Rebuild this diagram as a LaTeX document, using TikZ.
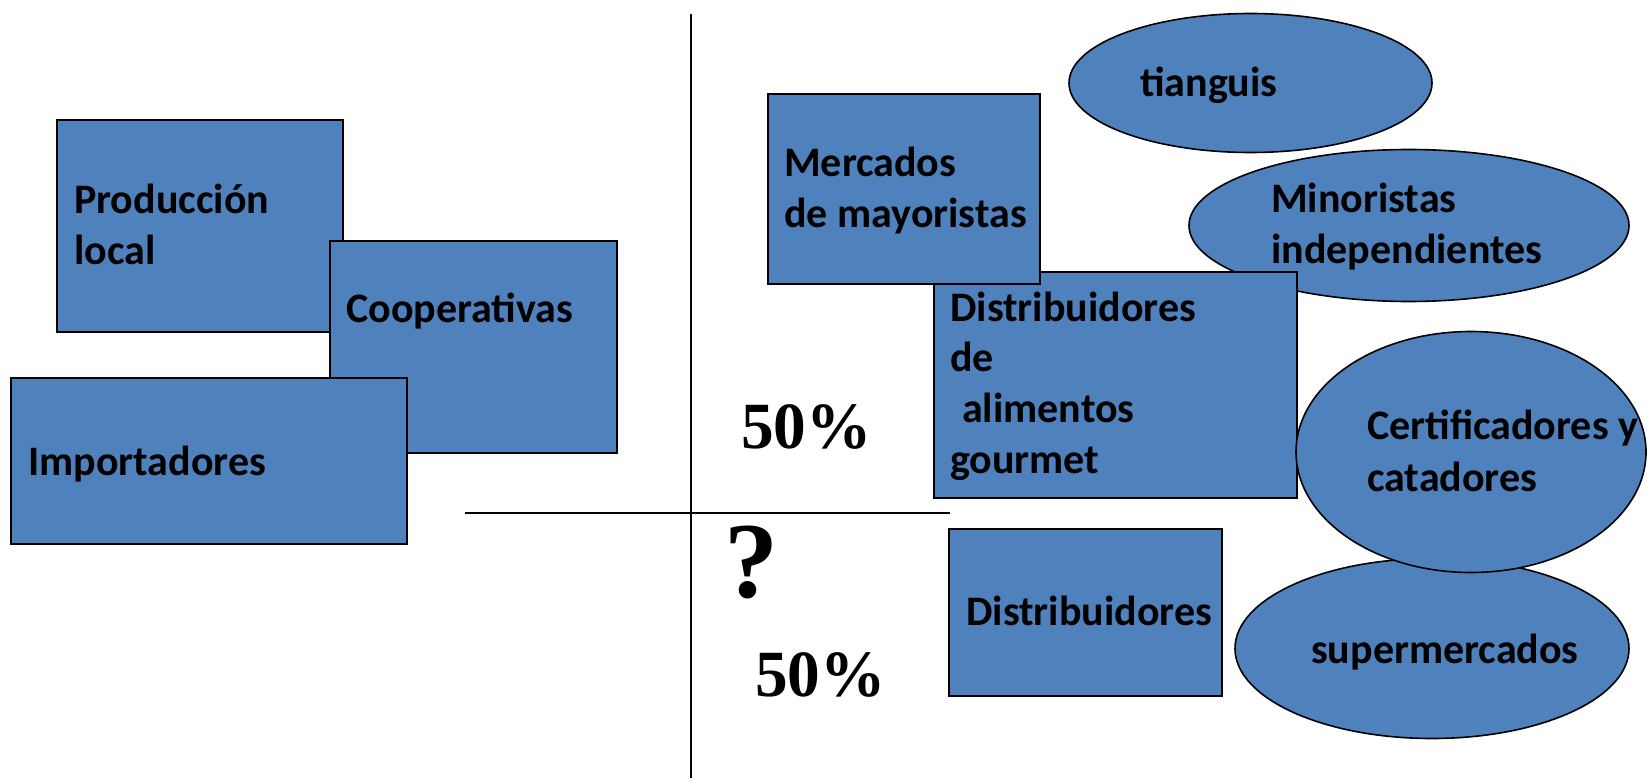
\documentclass[tikz,border=0pt]{standalone}
\usepackage{fontspec}
\setmainfont{Carlito}
\newfontfamily\tnr{Liberation Serif}
\usetikzlibrary{shapes.geometric}
\definecolor{boxblue}{HTML}{4F81BD}
\tikzset{
  blk/.style={draw=black, line width=2pt, fill=boxblue, rectangle, inner sep=0pt, anchor=north west},
  ell/.style={draw=black, line width=1.6pt, fill=boxblue, ellipse, inner sep=0pt},
  txt/.style={anchor=base west, inner sep=0pt, font=\bfseries\fontsize{42}{51}\selectfont},
  pct/.style={anchor=base west, inner sep=0pt, font=\tnr\bfseries\fontsize{66}{72}\selectfont},
  axis/.style={draw=black, line width=2pt}
}
\begin{document}
\begin{tikzpicture}[x=1pt, y=-1pt]
\useasboundingbox (0,0) rectangle (1647,778);
% axes
\coordinate (vtop) at (691,14);
\coordinate (vbot) at (691,778);
\coordinate (hl) at (465,513);
\coordinate (hr) at (950,513);
\draw[axis] (vtop) -- (vbot);
\draw[axis] (hl) -- (hr);
% left group
\node[blk, minimum width=286pt, minimum height=212pt] (prod) at (56,119) {};
\node[txt] (prod1) at (74,214) {Producción};
\node[txt] (prod2) at (74,265) {local};
\node[blk, minimum width=287pt, minimum height=212pt] (coop) at (329,240) {};
\node[txt] (coopt) at (346,322) {Cooperativas};
\node[blk, minimum width=396pt, minimum height=166pt] (imp) at (10,377) {};
\node[txt] (impt) at (28,475) {Importadores};
% right upper group
\node[ell, minimum width=363pt, minimum height=139pt] (tian) at (1250.5,83) {};
\node[txt] (tiant) at (1140,97) {tianguis};
\node[ell, minimum width=440pt, minimum height=152pt] (mino) at (1409,225.5) {};
\node[txt] (mino1) at (1271,213) {Minoristas};
\node[txt] (mino2) at (1271,263) {independientes};
\node[blk, minimum width=363pt, minimum height=226pt] (gour) at (933,271) {};
\node[txt] (gour1) at (950,321) {Distribuidores};
\node[txt] (gour2) at (950,371) {de};
\node[txt] (gour3) at (962,422) {alimentos};
\node[txt] (gour4) at (950,473) {gourmet};
\node[blk, minimum width=272pt, minimum height=190pt] (merc) at (767,93) {};
\node[txt] (merc1) at (784,177) {Mercados};
\node[txt] (merc2) at (784,228) {de mayoristas};
% right lower group
\node[ell, minimum width=394pt, minimum height=180pt] (super) at (1432,648.5) {};
\node[txt] (supert) at (1311,663) {supermercados};
\node[ell, minimum width=350pt, minimum height=241pt] (cert) at (1471,452) {};
\node[txt] (cert1) at (1367,439) {Certificadores y};
\node[txt] (cert2) at (1367,491) {catadores};
\node[blk, minimum width=273pt, minimum height=167pt] (dist) at (948,528) {};
\node[txt] (distt) at (966,625) {Distribuidores};
% percentages
\node[pct] (p1) at (741,448) {\scalebox{0.99}[1]{50\%}};
\node[pct] (p2) at (755,696) {\scalebox{0.99}[1]{50\%}};
\node[anchor=base west, inner sep=0pt, font=\tnr\bfseries\fontsize{108}{120}\selectfont] (q) at (724,597) {?};
\end{tikzpicture}
\end{document}
